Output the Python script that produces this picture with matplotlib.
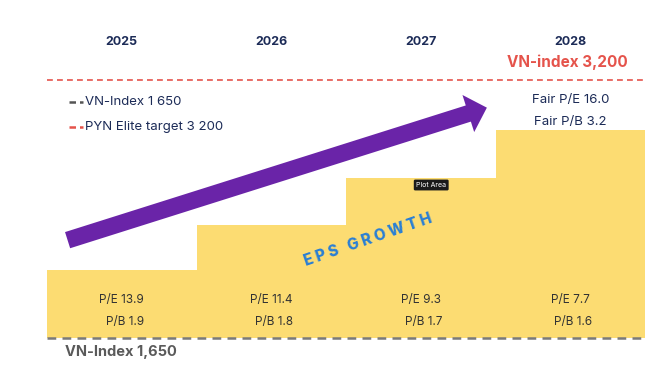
import matplotlib
matplotlib.use("Agg")
import matplotlib.pyplot as plt

years = ["2025", "2026", "2027", "2028"]
eps_level = [26.4, 43.8, 62.0, 80.6]          # relative step heights (EPS growth)
pe = ["13.9", "11.4", "9.3", "7.7"]
pb = ["1.9", "1.8", "1.7", "1.6"]
vn_now_label = "VN-Index 1,650"
vn_target_label = "VN-index 3,200"
fair_pe = "16.0"
fair_pb = "3.2"
target_level = 100                              # red dashed line level

plt.rcParams['font.family'] = ['Inter', 'DejaVu Sans']

fig = plt.figure(figsize=(6.71, 3.75), dpi=100)
ax = fig.add_axes([47/671, (375-338)/375, 598/671, 258/375])
ax.set_xlim(-0.5, 3.5)
ax.set_ylim(0, 100)
ax.axis("off")

yellow = "#fcdc72"
navy = "#1c2b57"
red = "#e5534b"
purple = "#6a24a8"
blue = "#2a7fd4"

x = list(range(len(years)))
ax.bar(x, eps_level, width=1.0, color=yellow, zorder=1)

# dashed reference lines
ax.axhline(0, color="#7a7a7a", lw=1.8, ls=(0, (3.5, 2.5)), zorder=3, clip_on=False)
ax.axhline(target_level, color=red, lw=1.2, ls=(0, (3.5, 2.5)), zorder=3, clip_on=False)

for i, y in enumerate(years):
    ax.text(i, 114.7, y, ha="center", va="center", fontsize=9, fontweight="bold",
            color=navy, clip_on=False)
    ax.text(i, 14.7, f"P/E {pe[i]}", ha="center", va="center", fontsize=8.5, color="#333333")
    ax.text(i + 0.02, 6.2, f"P/B {pb[i]}", ha="center", va="center", fontsize=8.5, color="#333333")

ax.text(2.98, 107.0, vn_target_label, ha="center", va="center", fontsize=11,
        fontweight="bold", color=red, clip_on=False)
ax.text(3.0, 92.2, f"Fair P/E {fair_pe}", ha="center", va="center", fontsize=9.5, color=navy)
ax.text(3.0, 83.7, f"Fair P/B {fair_pb}", ha="center", va="center", fontsize=9.5, color=navy)

# legend
ax.plot([-0.355, -0.26], [91.5, 91.5], color="#555555", lw=1.8, ls=(0, (2.6, 1.6)))
ax.text(-0.245, 91.5, "VN-Index 1 650", ha="left", va="center", fontsize=9.5, color=navy)
ax.plot([-0.355, -0.26], [81.8, 81.8], color=red, lw=1.8, ls=(0, (2.6, 1.6)))
ax.text(-0.245, 81.8, "PYN Elite target 3 200", ha="left", va="center", fontsize=9.5, color=navy)

ax.text(-0.38, -5.4, vn_now_label, ha="left", va="center", fontsize=10.5,
        fontweight="bold", color="#5a5a5a", clip_on=False)

# growth arrow
ax.annotate("", xy=(2.46, 89.6), xytext=(-0.38, 37.6),
            arrowprops=dict(arrowstyle="simple,head_length=0.7,head_width=1.4,tail_width=0.61",
                            mutation_scale=20, color=purple, lw=0), zorder=4)

ax.text(1.647, 38.0, "E P S   G R O W T H", ha="center", va="center", fontsize=11,
        fontweight="heavy", color=blue, rotation=19, zorder=5)

ax.text(2.07, 59.3, "Plot Area", ha="center", va="center", fontsize=5, color="white",
        zorder=6, bbox=dict(boxstyle="round,pad=0.35,rounding_size=0.2", fc="#1a1a1a", ec="none"))

fig.savefig("out.png", dpi=100, facecolor="white")
